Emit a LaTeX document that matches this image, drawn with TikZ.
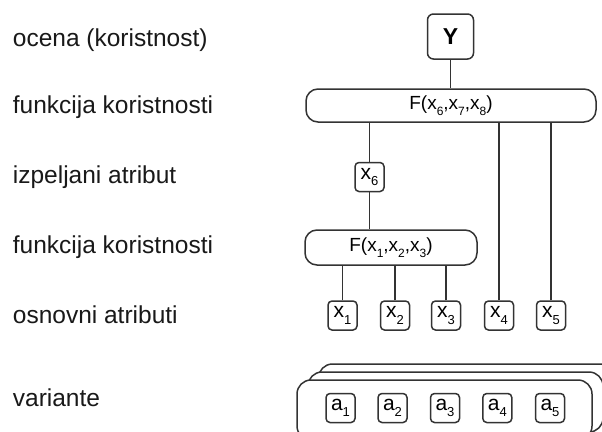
\documentclass[tikz,border=0pt]{standalone}
\usepackage{fontspec}
\setmainfont{Liberation Sans}
\newcommand\sbs[1]{\raisebox{-0.3em}{\fontsize{13}{13}\selectfont #1}}
\newcommand\fsb[1]{\raisebox{-0.3em}{\fontsize{12}{12}\selectfont #1}}
\tikzset{
  conn/.style={draw=black!80, line width=1.5pt},
  lbl/.style={anchor=west, inner sep=0pt, text=black!90, font=\fontsize{24.5}{26}\selectfont},
  small/.style={draw=black!80, line width=1.5pt, rounded corners=4pt, minimum width=29pt, minimum height=29pt, inner sep=0pt, font=\fontsize{21}{22}\selectfont},
  fbox/.style={draw=black!80, line width=1.5pt, rounded corners=12pt, inner sep=0pt, font=\fontsize{19}{21}\selectfont},
  varbox/.style={draw=black!80, line width=1.5pt, fill=white, rounded corners=14pt, minimum width=295pt, minimum height=60pt, inner sep=0pt},
}
\begin{document}
\begin{tikzpicture}[x=1pt,y=-1pt]
\useasboundingbox (0,0) rectangle (602,431);
\clip (0,0) rectangle (602,431);
\fill[white] (0,0) rectangle (602,431);
% labels
\node[lbl] (l1) at (12.7,40) {ocena (koristnost)};
\node[lbl] (l2) at (12.7,107) {funkcija koristnosti};
\node[lbl] (l3) at (12.7,177) {izpeljani atribut};
\node[lbl] (l4) at (12.7,247) {funkcija koristnosti};
\node[lbl] (l5) at (12.7,315) {osnovni atributi};
\node[lbl] (l6) at (12.7,398) {variante};
% tree
\node[small, rounded corners=6pt, minimum width=46pt, minimum height=45pt, font=\fontsize{23}{24}\selectfont\bfseries] (Y) at (450.5,36.5) {Y};
\node[fbox, minimum width=290pt, minimum height=33pt] (Ftop) at (451,105.5) {F(x\fsb{6},x\fsb{7},x\fsb{8})};
\node[small] (x6) at (369.5,177) {x\sbs{6}};
\node[fbox, minimum width=172pt, minimum height=35pt] (Fbot) at (391,247.5) {F(x\fsb{1},x\fsb{2},x\fsb{3})};
\node[small] (x1) at (342.5,315.5) {x\sbs{1}};
\node[small] (x2) at (395,315.5) {x\sbs{2}};
\node[small] (x3) at (446,315.5) {x\sbs{3}};
\node[small] (x4) at (499,315.5) {x\sbs{4}};
\node[small] (x5) at (551,315.5) {x\sbs{5}};
\draw[conn] (Y.south) -- (Y.south |- Ftop.north);
\draw[conn] (x6.north) -- (x6.north |- Ftop.south);
\draw[conn] (x6.south) -- (x6.south |- Fbot.north);
\draw[conn] (x1.north) -- (x1.north |- Fbot.south);
\draw[conn] (x2.north) -- (x2.north |- Fbot.south);
\draw[conn] (x3.north) -- (x3.north |- Fbot.south);
\draw[conn] (x4.north) -- (x4.north |- Ftop.south);
\draw[conn] (x5.north) -- (x5.north |- Ftop.south);
% variants
\node[varbox] (v3) at (466,394) {};
\node[varbox] (v2) at (455.5,402) {};
\node[varbox] (v1) at (444.5,410) {};
\node[small] (a1) at (340.5,408) {a\sbs{1}};
\node[small] (a2) at (392.5,408) {a\sbs{2}};
\node[small] (a3) at (445,408) {a\sbs{3}};
\node[small] (a4) at (497.3,408) {a\sbs{4}};
\node[small] (a5) at (550,408) {a\sbs{5}};
\end{tikzpicture}
\end{document}
